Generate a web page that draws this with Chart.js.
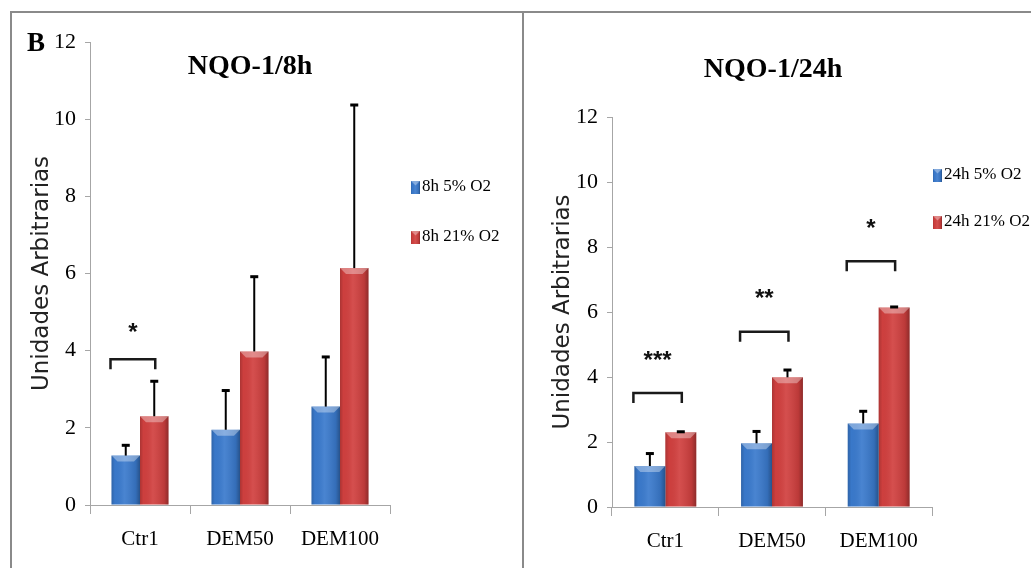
<!DOCTYPE html>
<html>
<head>
<meta charset="utf-8">
<script src="https://cdn.jsdelivr.net/npm/chart.js@4.4.0/dist/chart.umd.min.js"></script>
<style>
  body { margin: 0; background: #fff; }
  #page { position: relative; width: 1031px; height: 568px; overflow: hidden; background: #fff; }
  canvas { position: absolute; top: 0; }
  .line { position: absolute; background: #8a8a8a; z-index: 2; }
</style>
</head>
<body>
<div id="page">
  <canvas id="chart8h" width="510" height="568" style="left:12px"></canvas>
  <canvas id="chart24h" width="507" height="568" style="left:524px"></canvas>
  <div class="line" style="left:10px;top:11px;width:1021px;height:2px"></div>
  <div class="line" style="left:10px;top:11px;width:2px;height:557px"></div>
  <div class="line" style="left:522px;top:11px;width:2px;height:557px"></div>
</div>
<script>
var categories = ["Ctr1", "DEM50", "DEM100"];
var yTicks = [0, 2, 4, 6, 8, 10, 12];
var yTitle = "Unidades Arbitrarias";

// 8h panel
var labels8h = ["8h 5% O2", "8h 21% O2"];
var values8h5 = [1.28, 1.95, 2.55];
var values8h21 = [2.3, 3.98, 6.14];
var sd8h5 = [0.28, 1.03, 1.3];
var sd8h21 = [0.92, 1.95, 4.24];
var stars8h = ["*", "", ""];
var bracket8h = [3.78, null, null];

// 24h panel
var labels24h = ["24h 5% O2", "24h 21% O2"];
var values24h5 = [1.26, 1.96, 2.57];
var values24h21 = [2.3, 3.99, 6.14];
var sd24h5 = [0.4, 0.38, 0.39];
var sd24h21 = [0.03, 0.24, 0.03];
var stars24h = ["***", "**", "*"];
var bracket24h = [3.51, 5.39, 7.56];

var blue = "#3a7acd";
var red = "#d1403f";
var axisColor = "#a6a6a6";

function shadeBox(ctx, l, t, r, b) {
  var g = ctx.createLinearGradient(l, 0, r, 0);
  g.addColorStop(0, "rgba(0,0,0,0.18)");
  g.addColorStop(0.12, "rgba(0,0,0,0.02)");
  g.addColorStop(0.45, "rgba(255,255,255,0.08)");
  g.addColorStop(0.85, "rgba(0,0,0,0.1)");
  g.addColorStop(1, "rgba(0,0,0,0.32)");
  ctx.fillStyle = g;
  ctx.fillRect(l, t, r - l, b - t);
  var bev = Math.min(6, (b - t) / 2, (r - l) / 2);
  ctx.beginPath();
  ctx.moveTo(l, t);
  ctx.lineTo(r, t);
  ctx.lineTo(r - bev, t + bev);
  ctx.lineTo(l + bev, t + bev);
  ctx.closePath();
  ctx.fillStyle = "rgba(255,255,255,0.35)";
  ctx.fill();
}

var extras = {
  id: "extras",
  afterDatasetsDraw: function(chart, args, opts) {
    var ctx = chart.ctx;
    var yScale = chart.scales.y;
    ctx.save();
    // bar shading + error bars
    chart.data.datasets.forEach(function(ds, i) {
      chart.getDatasetMeta(i).data.forEach(function(bar, j) {
        shadeBox(ctx, bar.x - bar.width / 2, bar.y, bar.x + bar.width / 2, bar.base);
        var top = yScale.getPixelForValue(ds.data[j] + ds.errors[j]);
        ctx.strokeStyle = "#000";
        ctx.lineWidth = 2;
        ctx.beginPath();
        ctx.moveTo(bar.x, bar.y);
        ctx.lineTo(bar.x, top);
        ctx.stroke();
        ctx.fillStyle = "#000";
        ctx.fillRect(bar.x - 4, top - 1, 8, 3);
      });
    });
    // significance brackets
    var m0 = chart.getDatasetMeta(0).data, m1 = chart.getDatasetMeta(1).data;
    opts.brackets.forEach(function(level, j) {
      if (level == null) return;
      var x1 = m0[j].x - m0[j].width / 2 - 1;
      var x2 = m1[j].x + 1;
      var y = yScale.getPixelForValue(level);
      ctx.strokeStyle = "#1a1a1a";
      ctx.lineWidth = 2.5;
      ctx.beginPath();
      ctx.moveTo(x1, y + 10);
      ctx.lineTo(x1, y);
      ctx.lineTo(x2, y);
      ctx.lineTo(x2, y + 10);
      ctx.stroke();
      ctx.fillStyle = "#111";
      ctx.font = "bold 24px 'Liberation Sans'";
      ctx.textAlign = "center";
      ctx.textBaseline = "middle";
      ctx.fillText(opts.stars[j], (x1 + x2) / 2, y - opts.starGap);
    });
    // title
    ctx.fillStyle = "#000";
    ctx.font = "bold 28px 'Liberation Serif'";
    ctx.textAlign = "center";
    ctx.textBaseline = "alphabetic";
    ctx.fillText(opts.title, opts.titleX, opts.titleY);
    if (opts.panel) {
      ctx.font = "bold 27px 'Liberation Serif'";
      ctx.textAlign = "left";
      ctx.fillText(opts.panel, 15, 51);
    }
    // legend
    chart.data.datasets.forEach(function(ds, i) {
      var cy = opts.legendY + i * opts.legendGap;
      ctx.fillStyle = ds.backgroundColor;
      ctx.fillRect(opts.legendX, cy - 6, 9, 13);
      shadeBox(ctx, opts.legendX, cy - 6, opts.legendX + 9, cy + 7);
      ctx.fillStyle = "#000";
      ctx.font = "17px 'Liberation Serif'";
      ctx.textAlign = "left";
      ctx.textBaseline = "middle";
      ctx.fillText(ds.label, opts.legendX + 11, cy);
    });
    ctx.restore();
  }
};

function makeChart(id, p) {
  return new Chart(id, {
    type: "bar",
    data: {
      labels: categories,
      datasets: [
        { label: p.labels[0], data: p.v5, errors: p.sd5, backgroundColor: blue },
        { label: p.labels[1], data: p.v21, errors: p.sd21, backgroundColor: red }
      ]
    },
    options: {
      responsive: false,
      animation: false,
      categoryPercentage: p.catPct,
      barPercentage: 1,
      layout: { padding: { top: p.top, right: p.right, bottom: 0, left: 0 } },
      scales: {
        x: {
          ticks: { color: "#000", font: { family: "Liberation Serif", size: 21 }, padding: 13 },
          grid: { drawOnChartArea: false, tickLength: 9, color: axisColor, offset: true },
          border: { color: axisColor },
          afterFit: function(s) { s.height = p.xHeight; }
        },
        y: {
          min: yTicks[0],
          max: yTicks[yTicks.length - 1],
          ticks: { stepSize: yTicks[1] - yTicks[0], color: "#000", font: { family: "Liberation Serif", size: 22 }, padding: 9 },
          grid: { drawOnChartArea: false, tickLength: 5, color: axisColor },
          border: { color: axisColor },
          title: { display: true, text: yTitle, color: "#222", font: { family: "DejaVu Sans", size: 23 }, padding: { top: p.titlePad, bottom: 0 } },
          afterFit: function(s) { s.width = p.yWidth; }
        }
      },
      plugins: {
        legend: { display: false },
        tooltip: { enabled: false },
        extras: p.extras
      }
    },
    plugins: [extras]
  });
}

makeChart("chart8h", {
  labels: labels8h, v5: values8h5, v21: values8h21, sd5: sd8h5, sd21: sd8h21,
  catPct: 0.57, top: 42, right: 132, xHeight: 63, yWidth: 78, titlePad: 16,
  extras: {
    title: "NQO-1/8h", titleX: 238, titleY: 74, panel: "B",
    brackets: bracket8h, stars: stars8h, starGap: 26,
    legendX: 399, legendY: 187, legendGap: 50
  }
});

makeChart("chart24h", {
  labels: labels24h, v5: values24h5, v21: values24h21, sd5: sd24h5, sd21: sd24h21,
  catPct: 0.58, top: 117, right: 99, xHeight: 61, yWidth: 88, titlePad: 25,
  extras: {
    title: "NQO-1/24h", titleX: 249, titleY: 77, panel: null,
    brackets: bracket24h, stars: stars24h, starGap: 32,
    legendX: 409, legendY: 175, legendGap: 47
  }
});
</script>
</body>
</html>
